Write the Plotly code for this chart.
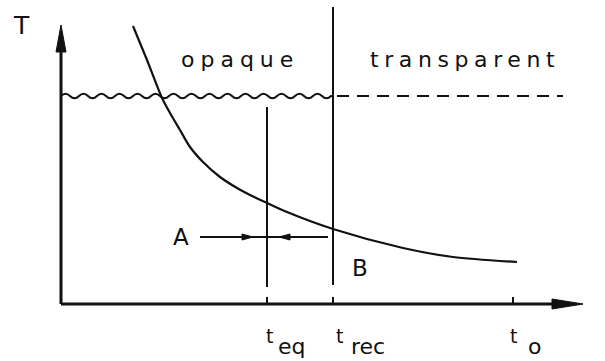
import plotly.graph_objects as go

# ---- diagram values (t: time axis, T: temperature axis) ----
curve_t = [72, 86, 101, 109, 119, 129, 142, 159, 176, 189, 204, 226, 272, 342, 392, 456]
curve_T = [278, 244, 206, 191, 174, 157, 142, 127, 116, 109, 102, 92, 75, 56, 47, 42]

t_eq = 206
t_rec = 272
t_o = 452
T_level = 208          # opaque / transparent boundary level
t_max = 522            # end of the time axis
T_max = 279            # end of the temperature axis
dash_end = 502
arrow_T = 67
arrow_from = 139
arrow_to = 267

# time labels: (position, subscript, offset of "t", offset of subscript)
tick_labels = [(t_eq, "eq", -3, 9), (t_rec, "rec", 1, 16), (t_o, "o", -5, 13)]

INK = "#111111"
FONT = "DejaVu Sans"

fig = go.Figure()

# falling temperature curve
fig.add_trace(go.Scatter(x=curve_t, y=curve_T, mode="lines",
                         line=dict(color=INK, width=2.2, shape="spline", smoothing=0.8),
                         hoverinfo="skip", showlegend=False))

shapes = []
# axes
shapes.append(dict(type="line", x0=0, y0=0, x1=0, y1=T_max - 20, line=dict(color=INK, width=3)))
shapes.append(dict(type="line", x0=0, y0=0, x1=t_max - 25, y1=0, line=dict(color=INK, width=3)))
# axis arrowheads
shapes.append(dict(type="path", path=f"M -5,{T_max-27} L 0,{T_max} L 5,{T_max-27} Z",
                   fillcolor=INK, line=dict(color=INK, width=1)))
shapes.append(dict(type="path", path=f"M {t_max-31},5 L {t_max},0 L {t_max-31},-5 Z",
                   fillcolor=INK, line=dict(color=INK, width=1)))

# wavy boundary in the opaque region
period = 18.0
amp = 4.5
n = int(t_rec // period)
p = f"M 0,{T_level}"
x = 0.0
for i in range(n):
    xm = x + period / 2
    xe = x + period
    p += f" Q {x + period/4},{T_level + amp} {xm},{T_level}"
    p += f" Q {xm + period/4},{T_level - amp} {xe},{T_level}"
    x = xe
p += f" L {t_rec},{T_level}"
shapes.append(dict(type="path", path=p, line=dict(color=INK, width=2)))
# dashed boundary in the transparent region
shapes.append(dict(type="line", x0=t_rec + 4, y0=T_level, x1=dash_end, y1=T_level,
                   line=dict(color=INK, width=2, dash="12px,8px")))

# vertical markers
shapes.append(dict(type="line", x0=t_eq, y0=17, x1=t_eq, y1=197, line=dict(color=INK, width=2)))
shapes.append(dict(type="line", x0=t_rec, y0=19, x1=t_rec, y1=297, line=dict(color=INK, width=2)))
for tv in (t_eq, t_rec, t_o):
    shapes.append(dict(type="line", x0=tv, y0=0, x1=tv, y1=7, line=dict(color=INK, width=2)))

# A -- arrow row
shapes.append(dict(type="line", x0=arrow_from, y0=arrow_T, x1=arrow_to, y1=arrow_T,
                   line=dict(color=INK, width=2)))
shapes.append(dict(type="path",
                   path=f"M {t_eq-25},{arrow_T+3} L {t_eq-14},{arrow_T} L {t_eq-25},{arrow_T-3} Z",
                   fillcolor=INK, line=dict(color=INK, width=1)))
shapes.append(dict(type="path",
                   path=f"M {t_eq+23},{arrow_T+3} L {t_eq+12},{arrow_T} L {t_eq+23},{arrow_T-3} Z",
                   fillcolor=INK, line=dict(color=INK, width=1)))

ann = []
def label(text, x, y, size=20, xa="center", ya="middle"):
    ann.append(dict(text=text, x=x, y=y, xref="x", yref="y", showarrow=False,
                    xanchor=xa, yanchor=ya, font=dict(family=FONT, size=size, color=INK)))

label("T", -40, 279, size=25)
label('<span style="letter-spacing:6px;font-size:22px">opaque</span>', 179, 245, size=22)
label('<span style="letter-spacing:5.6px;font-size:22px">transparent</span>', 404, 245, size=22)
label("A", 120, 67, size=23)
label("B", 299, 36, size=23)
for tv, sub, dt, ds in tick_labels:
    label("t", tv + dt, -32, size=19, xa="left")
    label(sub, tv + ds, -42, size=22, xa="left")

fig.update_layout(
    width=605, height=361,
    margin=dict(l=0, r=0, t=0, b=0),
    paper_bgcolor="white", plot_bgcolor="white",
    xaxis=dict(range=[-61, 544], visible=False, fixedrange=True),
    yaxis=dict(range=[-57, 304], visible=False, fixedrange=True),
    shapes=shapes, annotations=ann, showlegend=False,
)

fig.write_html("out.html")
